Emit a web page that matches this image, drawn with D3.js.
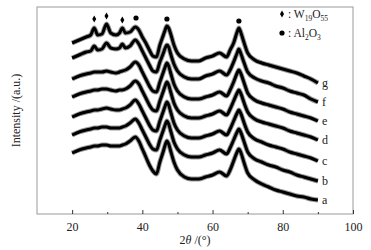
<!DOCTYPE html>
<html>
<head>
<meta charset="utf-8">
<script src="https://cdn.jsdelivr.net/npm/d3@7"></script>
<style>
  body { margin: 0; background: #fff; }
  text { font-family: "Liberation Serif", "DejaVu Serif", serif; fill: #222; }
</style>
</head>
<body>
<div id="chart"></div>
<script>
// 2theta sample positions shared by all patterns
const theta = [20, 22, 24, 25.3, 26.3, 27.3, 28.5, 29.8, 31, 32.5, 33.5, 34.3, 35.2, 36.5, 38, 39, 40, 41, 42, 43,
    44, 45, 46, 46.5, 47, 47.5, 48, 49, 50, 52, 54, 56, 58, 60, 62, 64, 65, 66, 67, 67.5,
    68, 69, 70, 72, 74, 76, 78, 80, 82, 84, 86, 88, 90];

// intensities (a.u., already stacked)
const seriesA = [61,64,66,67,68, 68,69,69,68,68, 68,69,70,73,77, 73,65,57,49,43, 40,52,63,69,73, 70,64,52,44,37, 35,35,37,39,42, 38,44,53,62,65, 62,51,41,34,30, 27,24,22,20,18, 17,15,14];
const seriesB = [79,82,84,85,86, 86,87,87,86,86, 86,87,88,91,95, 91,84,77,70,65, 64,74,84,89,93, 90,84,72,65,59, 57,57,59,61,64, 60,66,74,82,85, 82,72,62,55,52, 49,47,44,42,39, 37,35,33];
const seriesC = [97,100,102,103,104, 104,105,106,105,104, 104,105,106,109,114, 110,103,96,89,84, 83,93,103,108,112, 109,103,91,84,78, 76,76,78,80,83, 79,85,93,101,104, 101,91,82,75,72, 69,67,65,62,60, 58,56,53];
const seriesD = [117,120,122,123,124, 124,125,125,124,123, 124,124,125,128,133, 130,123,116,109,104, 103,113,123,128,132, 129,123,111,104,98, 96,96,98,100,103, 99,105,113,121,124, 121,111,102,95,92, 90,88,86,83,81, 79,77,74];
const seriesE = [135,138,140,141,142, 142,142,143,142,141, 142,143,144,147,152, 149,142,135,128,123, 122,132,142,147,151, 148,142,130,123,117, 115,115,117,119,122, 118,124,132,141,144, 141,131,121,114,111, 109,107,105,102,100, 98,96,93];
const seriesF = [156,159,162,163,168, 164,165,171,166,165, 166,170,166,168,174, 170,163,156,149,143, 142,152,161,166,169, 167,161,150,143,137, 135,135,138,140,143, 139,144,152,161,165, 161,151,142,136,133, 131,128,126,123,121, 119,115,112];
const seriesG = [171,174,177,179,186, 179,180,190,181,179, 181,186,181,182,187, 184,177,171,164,158, 157,169,179,184,188, 186,181,169,161,155, 153,153,156,158,161, 157,164,171,182,186, 182,171,161,154,151, 149,147,145,143,141, 138,135,131];

const labels = ["a", "b", "c", "d", "e", "f", "g"];
const allSeries = [seriesA, seriesB, seriesC, seriesD, seriesE, seriesF, seriesG];

// phase markers
const w19o55Peaks = [26.3, 29.8, 34.3];
const w19o55Heights = [195, 198, 194];
const al2o3Peaks = [38.2, 47, 67.5];
const al2o3Heights = [196, 195, 193];

const xTicks = [20, 40, 60, 80, 100];
const xMinor = [30, 50, 70, 90];

const margin = { top: 7, right: 18, bottom: 36, left: 37 },
    width = 371 - margin.left - margin.right,
    height = 250 - margin.top - margin.bottom;

const x = d3.scaleLinear().domain([10, 100]).range([0, width]);
const y = d3.scaleLinear().domain([0, 207]).range([height, 0]);

const svg = d3.select("#chart").append("svg")
    .attr("width", 371)
    .attr("height", 250)
    .append("g").attr("transform", "translate(" + margin.left + "," + margin.top + ")");

const line = d3.line()
    .x(d => x(d[0]))
    .y(d => y(d[1]))
    .curve(d3.curveMonotoneX);

allSeries.forEach((s, i) => {
    const pts = theta.map((t, j) => [t, s[j]]);
    svg.append("path").datum(pts)
        .attr("d", line)
        .attr("fill", "none")
        .attr("stroke", "#9a9a9a")
        .attr("stroke-width", 5)
        .attr("stroke-linejoin", "round");
    svg.append("path").datum(pts)
        .attr("d", line)
        .attr("fill", "none")
        .attr("stroke", "#000")
        .attr("stroke-width", 3)
        .attr("stroke-linejoin", "round");
    svg.append("text")
        .attr("x", x(90) + 4)
        .attr("y", y(s[s.length - 1]) + 4)
        .attr("font-size", 12)
        .text(labels[i]);
});

// markers
svg.selectAll(".dia").data(w19o55Peaks).enter().append("path")
    .attr("transform", (d, i) => "translate(" + x(d) + "," + y(w19o55Heights[i]) + ")")
    .attr("d", d3.symbol(d3.symbolDiamond, 14))
    .attr("fill", "#000");
svg.selectAll(".dot").data(al2o3Peaks).enter().append("circle")
    .attr("cx", d => x(d))
    .attr("cy", (d, i) => y(al2o3Heights[i]))
    .attr("r", 2.6)
    .attr("fill", "#000");

// box
svg.append("rect")
    .attr("width", width).attr("height", height)
    .attr("fill", "none").attr("stroke", "#999").attr("stroke-width", 1);

// x axis (ticks inward)
svg.append("g")
    .attr("transform", "translate(0," + height + ")")
    .call(d3.axisBottom(x).tickValues(xTicks).tickSize(-4).tickPadding(8).tickFormat(d3.format("d")))
    .call(g => g.select(".domain").remove())
    .call(g => g.selectAll("line").attr("stroke", "#333"))
    .call(g => g.selectAll("text").attr("font-size", 12).attr("font-family", "Liberation Serif").attr("fill", "#222"));

svg.append("g")
    .attr("transform", "translate(0," + height + ")")
    .call(d3.axisBottom(x).tickValues(xMinor).tickSize(-2).tickFormat(""))
    .call(g => g.select(".domain").remove())
    .call(g => g.selectAll("line").attr("stroke", "#333"));

// axis titles
const xt = svg.append("text")
    .attr("x", width / 2)
    .attr("y", height + 30)
    .attr("text-anchor", "middle")
    .attr("font-size", 12);
xt.append("tspan").text("2");
xt.append("tspan").attr("font-style", "italic").text("θ");
xt.append("tspan").text(" /(°)");

svg.append("text")
    .attr("transform", "translate(" + (-17) + "," + (height / 2) + ") rotate(-90)")
    .attr("text-anchor", "middle")
    .attr("font-size", 12)
    .text("Intensity /(a.u.)");

// legend
const lg = svg.append("g").attr("transform", "translate(" + (x(10) + 245) + ",7)");
lg.append("path").attr("d", d3.symbol(d3.symbolDiamond, 14)).attr("fill", "#000");
const t1 = lg.append("text").attr("x", 6).attr("y", 4).attr("font-size", 11.5);
t1.append("tspan").text(": W");
t1.append("tspan").attr("font-size", 7.5).attr("dy", 3).text("19");
t1.append("tspan").attr("dy", -3).text("O");
t1.append("tspan").attr("font-size", 7.5).attr("dy", 3).text("55");

lg.append("circle").attr("cy", 19).attr("r", 2.6).attr("fill", "#000");
const t2 = lg.append("text").attr("x", 6).attr("y", 23).attr("font-size", 11.5);
t2.append("tspan").text(": Al");
t2.append("tspan").attr("font-size", 7.5).attr("dy", 3).text("2");
t2.append("tspan").attr("dy", -3).text("O");
t2.append("tspan").attr("font-size", 7.5).attr("dy", 3).text("3");
</script>
</body>
</html>
